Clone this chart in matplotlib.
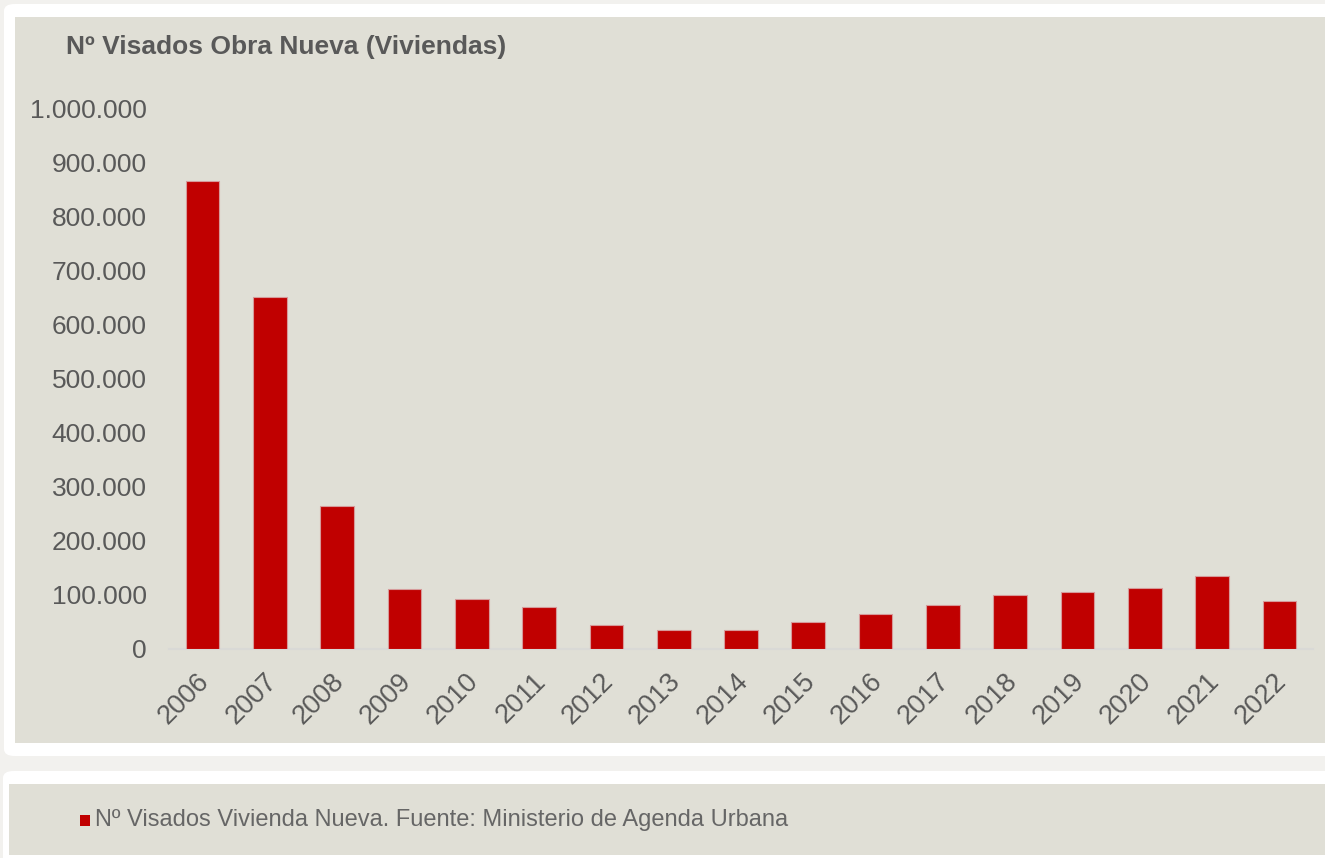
import matplotlib
matplotlib.use("Agg")
import matplotlib.pyplot as plt
from matplotlib.patches import Rectangle, FancyBboxPatch
from matplotlib.ticker import FuncFormatter
from matplotlib.transforms import ScaledTranslation

years = ["2006", "2007", "2008", "2009", "2010", "2011", "2012", "2013", "2014",
         "2015", "2016", "2017", "2018", "2019", "2020", "2021", "2022"]
visados = [865561, 651427, 264795, 110849, 91662, 78286, 44162, 34288, 34873,
           49695, 64038, 80786, 100733, 106266, 113000, 135000, 88700]
yticks = [0, 100000, 200000, 300000, 400000, 500000, 600000, 700000, 800000, 900000, 1000000]

title = "Nº Visados Obra Nueva (Viviendas)"
legend_label = "Nº Visados Vivienda Nueva. Fuente: Ministerio de Agenda Urbana"

W, H = 1325, 858
fig = plt.figure(figsize=(W / 100, H / 100), dpi=100)
fig.patch.set_facecolor("#f2f1ee")

def fx(px):
    return px / W

def fy(py):
    return 1 - py / H

beige = "#e0dfd6"
# top card
fig.patches.append(FancyBboxPatch((fx(4), fy(756)), fx(1340) - fx(4), fy(4) - fy(756),
                                  boxstyle="round,pad=0,rounding_size=0.008",
                                  transform=fig.transFigure, facecolor="white",
                                  edgecolor="none", zorder=0))
fig.patches.append(Rectangle((fx(15), fy(743)), fx(1325) - fx(15), fy(17) - fy(743),
                             transform=fig.transFigure, facecolor=beige,
                             edgecolor="none", zorder=0.5))
# bottom card
fig.patches.append(FancyBboxPatch((fx(3), fy(870)), fx(1340) - fx(3), fy(771) - fy(870),
                                  boxstyle="round,pad=0,rounding_size=0.008",
                                  transform=fig.transFigure, facecolor="white",
                                  edgecolor="none", zorder=0))
fig.patches.append(Rectangle((fx(9), fy(855)), fx(1325) - fx(9), fy(784) - fy(855),
                             transform=fig.transFigure, facecolor=beige,
                             edgecolor="none", zorder=0.5))

ax = fig.add_axes([fx(169), fy(649), fx(1313) - fx(169), fy(108) - fy(649)])
ax.set_zorder(3)
ax.set_facecolor("none")
x = list(range(len(years)))
ax.bar(x, visados, width=0.5, color="#c00000", edgecolor="#d69a9a", linewidth=0.8, zorder=3)
ax.set_xlim(-0.5, len(years) - 0.5)
ax.set_ylim(0, 1000000)
ax.set_yticks(yticks)
ax.yaxis.set_major_formatter(FuncFormatter(lambda v, p: f"{int(v):,}".replace(",", ".")))
ax.set_xticks(x)
ax.set_xticklabels(years, rotation=45, ha="right", va="center", rotation_mode="anchor")
for s in ["top", "right", "left"]:
    ax.spines[s].set_visible(False)
ax.spines["bottom"].set_color("#d9d9d6")
ax.spines["bottom"].set_linewidth(1.5)
ax.tick_params(axis="y", length=0, pad=16, labelsize=19, labelcolor="#595959")
ax.tick_params(axis="x", length=0, pad=14, labelsize=19.5, labelcolor="#595959")
for lab in ax.get_xticklabels() + ax.get_yticklabels():
    lab.set_fontfamily("Liberation Sans")
offset = ScaledTranslation(3 / 100, -9 / 100, fig.dpi_scale_trans)
for lab in ax.get_xticklabels():
    lab.set_transform(lab.get_transform() + offset)

fig.text(fx(66), fy(47), title, ha="left", va="center", fontsize=19, fontweight="bold",
         color="#595959", family="Liberation Sans", zorder=4)

fig.patches.append(Rectangle((fx(80), fy(826)), fx(90) - fx(80), fy(815) - fy(826),
                             transform=fig.transFigure, facecolor="#c00000",
                             edgecolor="none", zorder=2))
fig.text(fx(95), fy(820), legend_label, ha="left", va="center", fontsize=17,
         color="#666666", family="Liberation Sans", zorder=4)

fig.savefig("out.png", dpi=100, facecolor=fig.get_facecolor())
